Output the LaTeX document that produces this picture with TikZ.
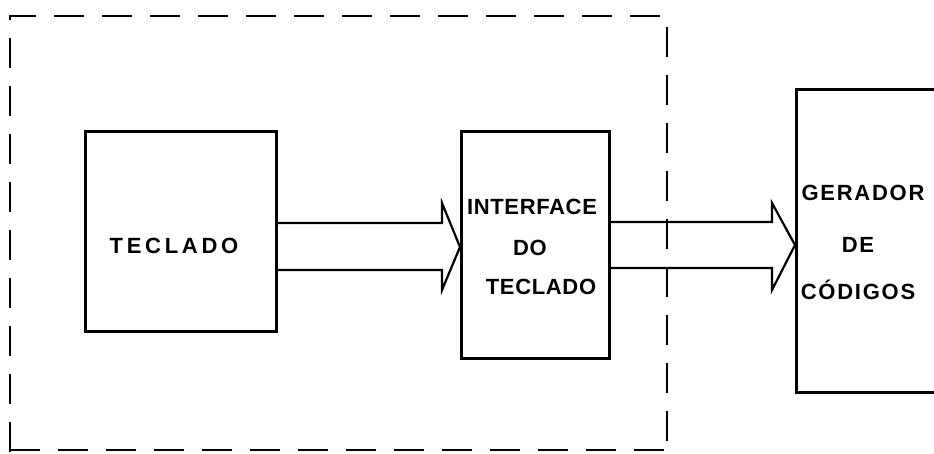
\documentclass[tikz,border=0pt]{standalone}
\usepackage{fontspec}
\setmainfont{Liberation Sans}
\newfontfamily\lsWide[LetterSpace=17]{Liberation Sans}
\newfontfamily\lsTight[LetterSpace=3]{Liberation Sans}
\newfontfamily\lsMid[LetterSpace=8]{Liberation Sans}
\begin{document}
\begin{tikzpicture}[x=1pt,y=-1pt,
  blk/.style={draw,line width=2.6pt},
  lbl/.style={font=\fontsize{22}{25}\selectfont\bfseries, inner sep=0pt, anchor=center},
  arr/.style={line width=2.2pt, line join=miter}]
\useasboundingbox (0,0) rectangle (934,453);
% dashed boundary
\draw[line width=2.6pt, dash pattern=on 30pt off 18pt] (10,452) -- (10,16) -- (667,16) -- (667,452);
\draw[line width=2.6pt, dash pattern=on 30pt off 18pt] (10,450) -- (667,450);
% blocks
\node[blk, minimum width=191pt, minimum height=200pt, inner sep=0pt, anchor=north west] (tec) at (84,130) {};
\node[blk, minimum width=148pt, minimum height=227pt, inner sep=0pt, anchor=north west] (intf) at (460,130) {};
\node[blk, minimum width=160pt, minimum height=303pt, inner sep=0pt, anchor=north west] (ger) at (795,88) {};
% labels
\node[lbl] (t1) at (174,246) {\lsWide TECLADO};
\node[lbl] (i1) at (532,207) {\lsTight INTERFACE};
\node[lbl] (i2) at (530,248) {\lsTight DO};
\node[lbl] (i3) at (541,287) {\lsTight TECLADO};
\node[lbl] (g1) at (863,193) {\lsMid GERADOR};
\node[lbl] (g2) at (858,245) {\lsMid DE};
\node[lbl] (g3) at (858,290) {\lsMid CÓDIGOS};
% wide arrows
\coordinate (a1) at (tec.east |- 0,223);
\coordinate (a2) at (tec.east |- 0,270);
\coordinate (h1) at (442,223);
\coordinate (h2) at (442,270);
\draw[arr] (a1) -- (h1) -- (442,203) -- (intf.west |- 0,247) -- (442,290) -- (h2) -- (a2);
\coordinate (b1) at (intf.east |- 0,222);
\coordinate (b2) at (intf.east |- 0,268);
\draw[arr] (b1) -- (772,222) -- (772,203) -- (ger.west |- 0,245) -- (772,290) -- (772,268) -- (b2);
\end{tikzpicture}
\end{document}
